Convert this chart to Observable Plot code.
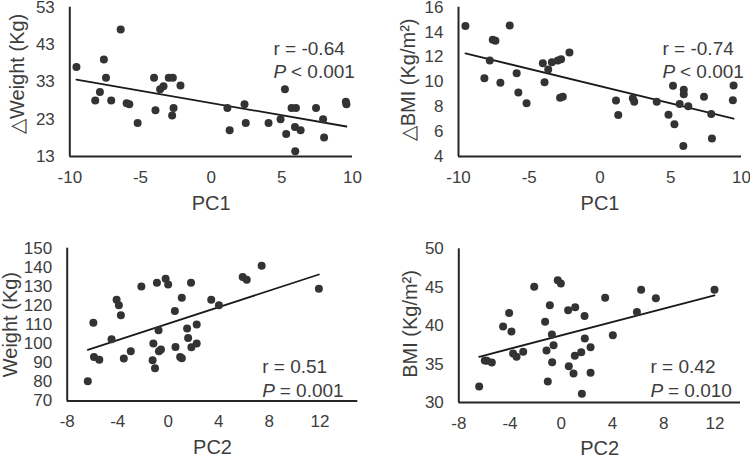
<!DOCTYPE html>
<html><head><meta charset="utf-8">
<script src="https://cdn.jsdelivr.net/npm/d3@7"></script>
<script src="https://cdn.jsdelivr.net/npm/@observablehq/plot@0.6"></script>
<style>
body{margin:0;background:#fff;}
#chart{position:relative;width:750px;height:455px;overflow:hidden;background:#fff;}
#chart svg{position:absolute;overflow:visible;}
</style></head><body><div id="chart"></div>
<script>
// ---- data ----
const pc1A = [-9.53,-6.40,-7.59,-7.44,-7.87,-8.20,-7.07,-5.98,-5.79,-5.20,-4.04,-3.94,-3.61,-3.37,-3.00,-2.71,-2.76,-2.66,-2.17,1.15,1.31,2.36,2.45,4.06,4.91,5.22,5.31,5.69,6.00,5.93,6.33,5.95,7.42,7.92,7.99,9.53,9.57];
const dWeight = [37.0,47.0,39.0,34.1,30.3,28.0,28.0,27.3,27.0,22.0,34.1,25.4,31.0,31.8,34.1,34.1,24.0,26.0,32.0,26.0,20.0,27.0,22.0,22.0,23.0,31.0,19.0,26.0,26.0,20.9,20.0,14.4,26.0,23.0,18.1,27.7,27.0];
const pc1B = [-9.51,-6.38,-7.58,-7.39,-7.79,-8.17,-7.04,-5.89,-5.77,-5.19,-4.04,-3.92,-3.66,-3.40,-2.98,-2.75,-2.82,-2.63,-2.16,1.13,1.29,2.32,2.42,4.01,4.84,5.16,5.26,5.63,5.92,5.92,6.24,5.89,7.35,7.86,7.91,9.44,9.39];
const dBMI = [14.48,14.53,13.39,13.31,11.71,10.29,9.92,10.69,9.15,8.29,11.49,9.97,10.99,11.57,11.71,11.81,8.72,8.80,12.35,8.51,7.33,8.69,8.40,8.40,7.36,9.68,6.59,8.21,9.36,9.01,8.03,4.85,8.80,7.41,5.44,9.71,8.53];
const pc2A = [-6.37,-5.93,-5.88,-5.46,-4.49,-4.09,-3.91,-3.75,-3.52,-2.97,-2.13,-0.90,-1.18,-1.24,-1.05,-0.77,-0.74,-0.58,-0.21,-0.01,0.57,0.52,0.94,1.07,1.07,1.49,1.57,1.80,1.83,2.25,2.25,3.40,4.01,5.89,6.21,7.39,11.92];
const weight = [80.3,111.0,93.1,91.6,102.3,123.0,120.1,114.9,92.3,96.1,130.0,131.9,100.1,91.4,87.2,107.0,96.1,97.0,134.0,131.0,98.3,117.1,93.0,92.4,124.1,107.9,103.0,131.9,98.2,100.1,110.0,123.0,120.1,134.9,133.5,140.8,128.8];
const pc2B = [-6.41,-5.97,-5.81,-5.42,-4.54,-4.07,-3.89,-3.76,-3.49,-2.97,-2.11,-1.26,-1.15,-1.05,-0.89,-0.73,-0.71,-0.60,-0.27,-0.03,0.54,0.59,0.96,1.09,1.06,1.56,1.61,1.82,1.84,2.29,2.29,3.43,4.03,5.91,6.24,7.39,11.97];
const bmi = [32.08,35.47,35.42,35.21,39.89,41.63,39.24,36.38,35.94,36.59,45.05,40.50,36.77,32.73,42.67,38.85,35.25,37.46,45.92,45.49,42.02,34.73,33.77,42.41,36.07,36.55,31.13,41.24,38.33,37.20,33.86,43.62,38.76,41.76,44.66,43.58,44.66];

const xTicksPC1 = [-10,-5,0,5,10];
const xTicksPC2 = [-8,-4,0,4,8,12];
const yTicksDW = [13,23,33,43,53];
const yTicksDB = [4,6,8,10,12,14,16];
const yTicksW = [70,80,90,100,110,120,130,140,150];
const yTicksB = [30,35,40,45,50];
const xDomains = [[-10,10],[-10,10],[-8,15],[-8,14]];
const yDomains = [[13,53],[4,16],[70,150],[30,50]];
const xTitles = ["PC1","PC1","PC2","PC2"];
const yTitles = ["\u25B3Weight (Kg)","\u25B3BMI (Kg/m\u00B2)","Weight (Kg)","BMI (Kg/m\u00B2)"];
const rLabels = ["r = -0.64","r = -0.74","r = 0.51","r = 0.42"];
const pLabels = ["< 0.001","< 0.001","= 0.001","= 0.010"];

const xsets = [pc1A, pc1B, pc2A, pc2B];
const ysets = [dWeight, dBMI, weight, bmi];
const xticks = [xTicksPC1, xTicksPC1, xTicksPC2, xTicksPC2];
const yticks = [yTicksDW, yTicksDB, yTicksW, yTicksB];

// ---- layout (styling only) ----
const layout = [
  {left:0,   top:0,   w:375, h:215, ml:69.3, mr:23,  mt:6.7,  mb:59,   ylx:-52, yly:-8, xly:47, rAnchor:"top-right", rdx:-79, rdy:[41.5,64.5]},
  {left:375, top:0,   w:375, h:215, ml:83,   mr:9,   mt:6.7,  mb:59,   ylx:-50, yly:-2, xly:47, rAnchor:"top-right", rdx:-79, rdy:[41.5,64.5]},
  {left:0,   top:215, w:375, h:240, ml:66.7, mr:17.7,mt:32.7, mb:54.5, ylx:-56.5, yly:0, xly:46.5, rAnchor:"bottom-right", rdx:-95.6, rdy:[-33.8,-9.8]},
  {left:375, top:215, w:375, h:240, ml:83.3, mr:10,  mt:33.3, mb:53,   ylx:-48.3, yly:-1.7, xly:45.7, rAnchor:"bottom-right", rdx:-90, rdy:[-35.3,-11.3]}
];

const FONT = '"Liberation Sans", Arial, Helvetica, sans-serif';
const TXT = "#3d3d3d";
const container = document.getElementById("chart");
const fmt = d => String(d);

layout.forEach((L, i) => {
  const data = xsets[i].map((x, k) => ({x, y: ysets[i][k]}));
  const svg = Plot.plot({
    width: L.w, height: L.h,
    marginLeft: L.ml, marginRight: L.mr, marginTop: L.mt, marginBottom: L.mb,
    style: {fontFamily: FONT, fontSize: "17px", color: TXT, background: "transparent", overflow: "visible"},
    x: {domain: xDomains[i], ticks: xticks[i], tickFormat: fmt, tickSize: 0, tickPadding: 14, label: null},
    y: {domain: yDomains[i], ticks: yticks[i], tickFormat: fmt, tickSize: 0, tickPadding: 15, label: null},
    marks: [
      Plot.ruleY([yDomains[i][0]], {stroke: "#262626", strokeWidth: 2}),
      Plot.ruleX([xDomains[i][0]], {stroke: "#262626", strokeWidth: 2}),
      Plot.linearRegressionY(data, {x: "x", y: "y", ci: 0, stroke: "#1a1a1a", strokeWidth: 1.8}),
      Plot.dot(data, {x: "x", y: "y", r: 4, fill: "#333333", stroke: "none"}),
      Plot.text([xTitles[i]], {text: d => d, frameAnchor: "bottom", dy: L.xly, fontSize: 20, fill: TXT, textAnchor: "middle", lineAnchor: "middle"}),
      Plot.text([yTitles[i]], {text: d => d, frameAnchor: "left", rotate: -90, dx: L.ylx, dy: L.yly, fontSize: 20, fill: TXT, textAnchor: "middle", lineAnchor: "middle"}),
      Plot.text([rLabels[i]], {text: d => d, frameAnchor: L.rAnchor, dx: L.rdx, dy: L.rdy[0], textAnchor: "start", lineAnchor: "middle", fontSize: 19, fill: TXT}),
      Plot.text(["P"], {text: d => d, frameAnchor: L.rAnchor, dx: L.rdx, dy: L.rdy[1], textAnchor: "start", lineAnchor: "middle", fontSize: 19, fontStyle: "italic", fill: TXT}),
      Plot.text([pLabels[i]], {text: d => d, frameAnchor: L.rAnchor, dx: L.rdx + 17.5, dy: L.rdy[1], textAnchor: "start", lineAnchor: "middle", fontSize: 19, fill: TXT})
    ]
  });
  svg.style.left = L.left + "px";
  svg.style.top = L.top + "px";
  container.appendChild(svg);
});
</script>
</body></html>
